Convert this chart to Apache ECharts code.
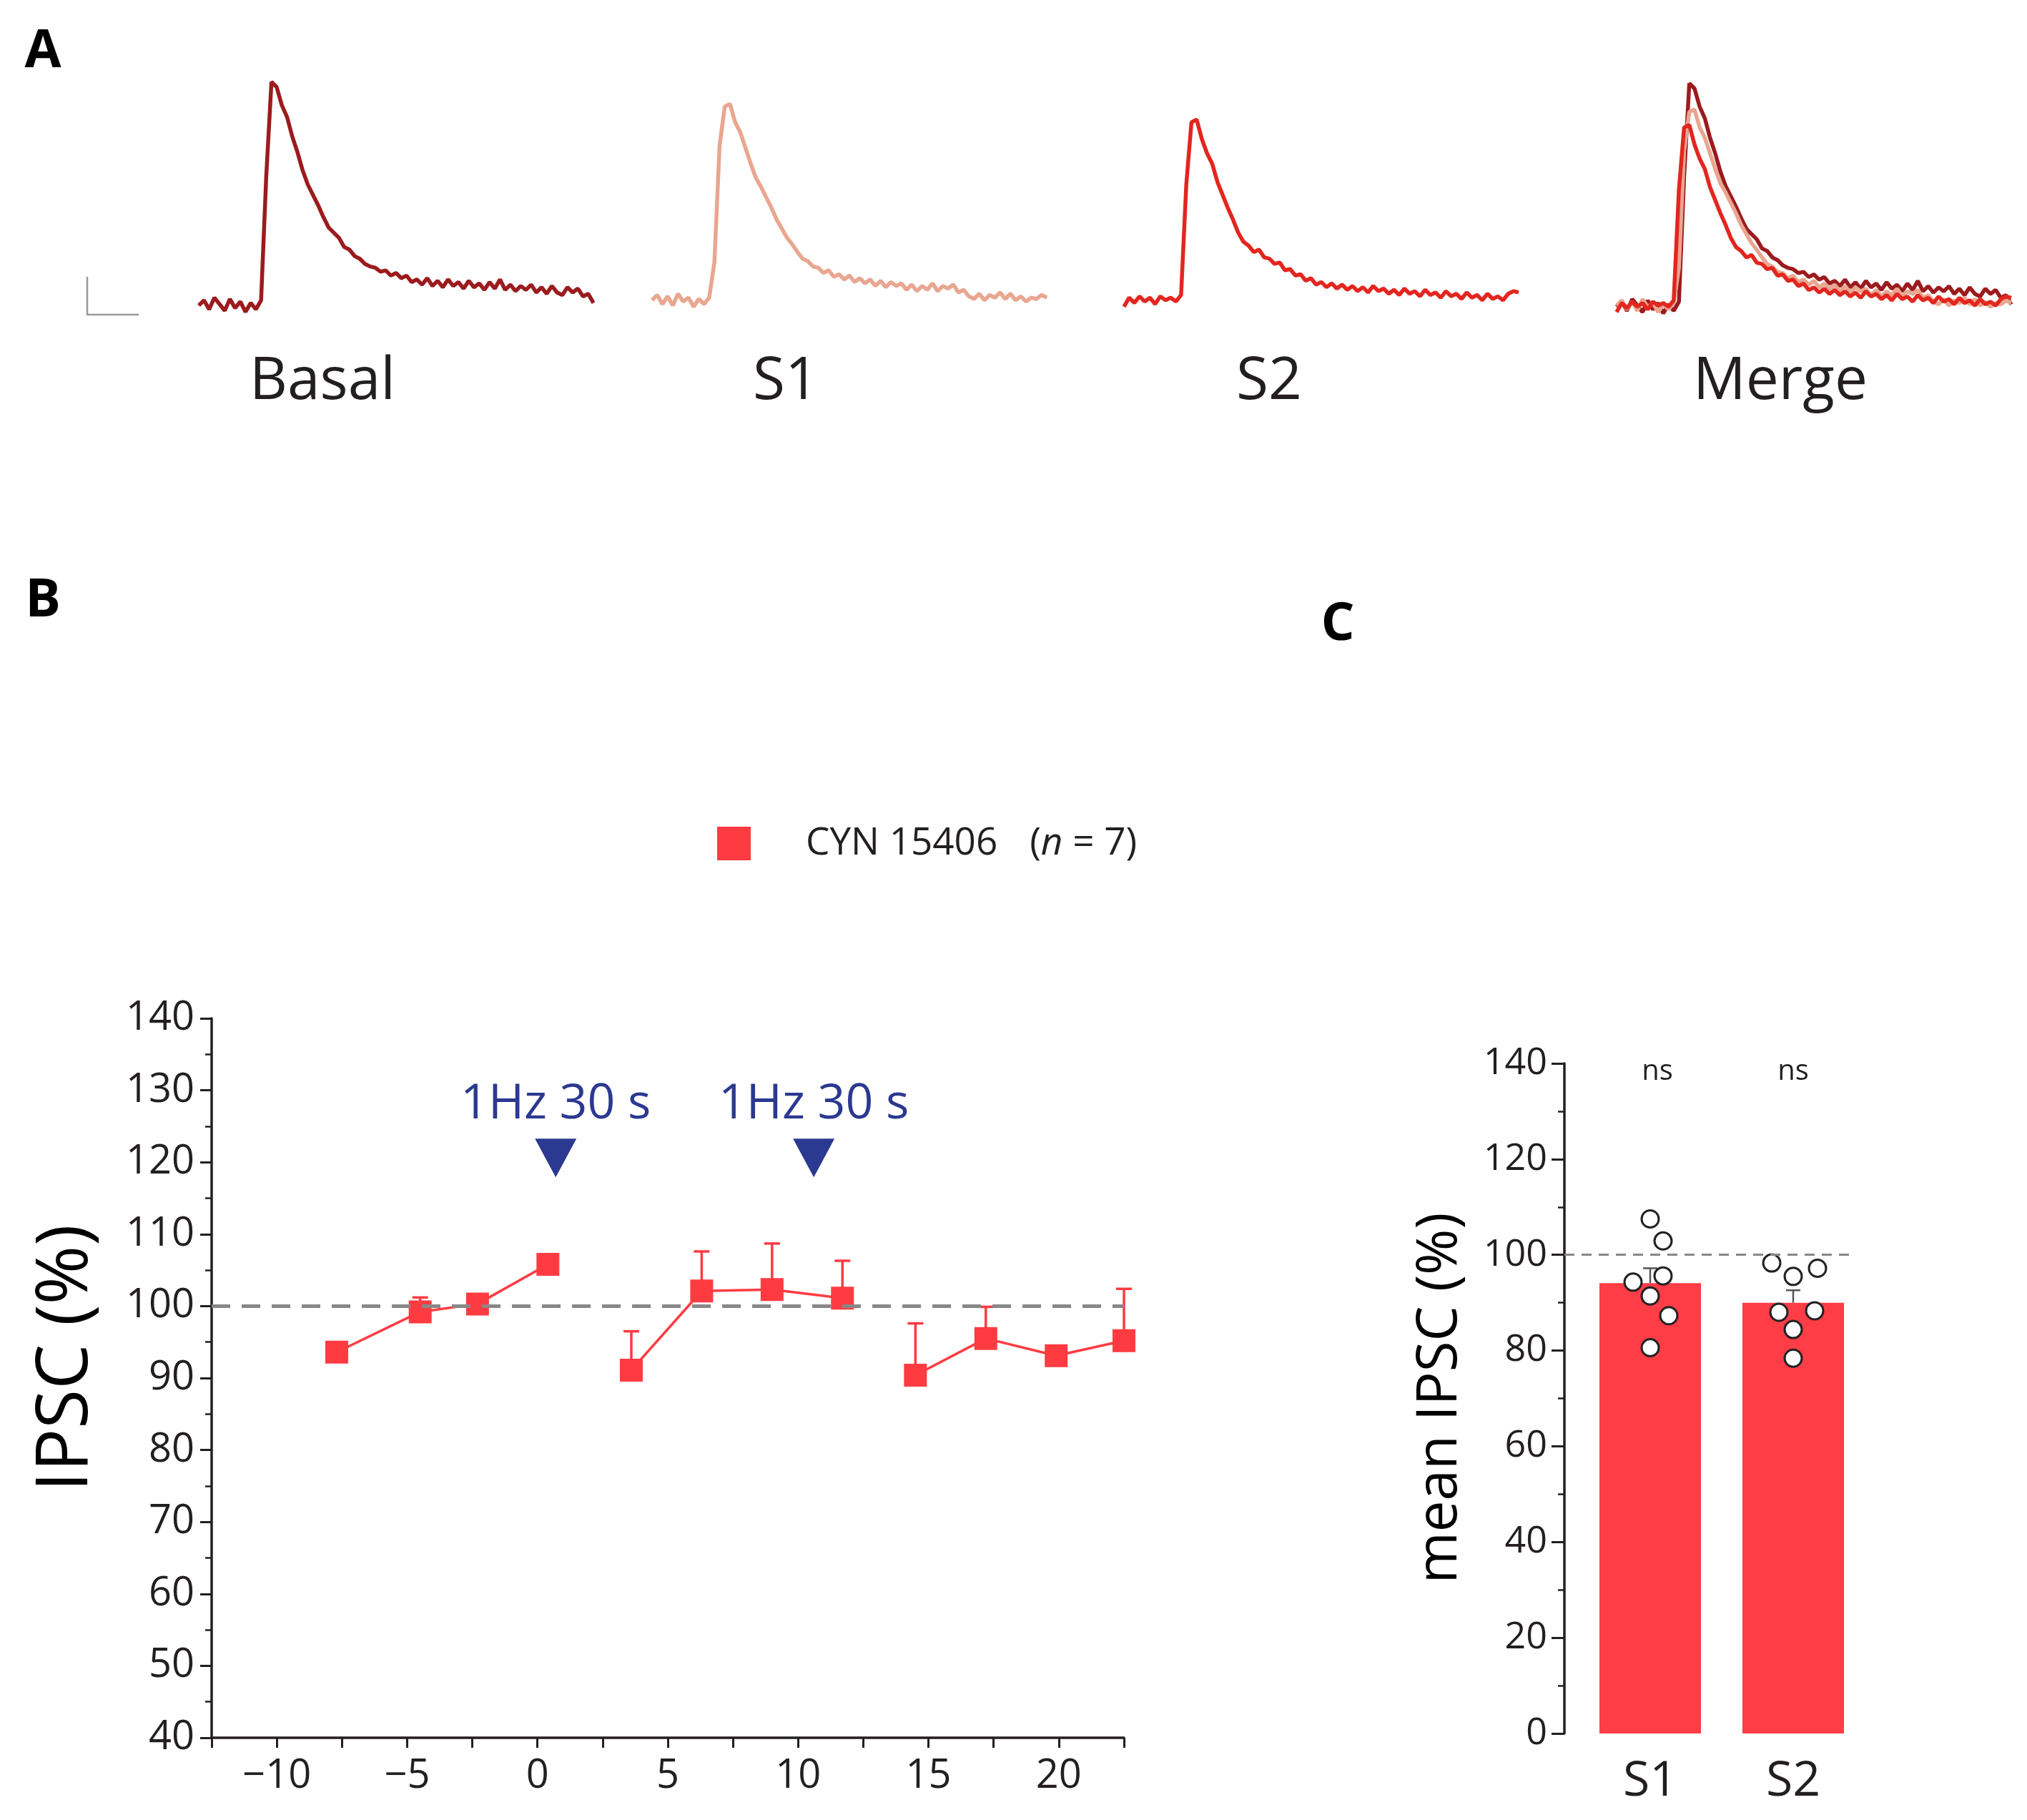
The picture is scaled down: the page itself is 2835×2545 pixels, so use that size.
<!DOCTYPE html>
<html>
<head>
<meta charset="utf-8">
<script src="https://cdn.jsdelivr.net/npm/echarts@6/dist/echarts.min.js"></script>
<style>
html, body { margin: 0; padding: 0; background: #fff; }
#main { width: 2835px; height: 2545px; }
</style>
</head>
<body>
<div id="main"></div>
<script>
// panel A: IPSC traces, amplitude above baseline, one sample per time step
var basalTrace = [0,4,-3,6,1,-4,5,-2,3,-5,2,-3,4,100,172,168,154,145,130,118,104,93,85,77,68,60,56,52,45,43,38,36,32,30,29,26,27,23,25,21,23,18,20,16,21,15,19,14,20,15,18,13,19,14,17,12,18,13,20,12,16,11,15,12,16,10,14,9,15,10,8,14,10,13,7,9,2];
var s1Trace = [1,5,-2,4,-3,6,0,3,-4,2,-2,3,30,120,150,152,138,130,118,106,95,88,80,72,63,56,49,44,38,33,31,27,26,22,24,19,21,17,20,15,18,14,17,12,16,11,15,12,14,9,13,8,12,9,14,8,12,10,13,7,9,4,2,6,1,5,3,7,2,6,1,4,0,3,2,5,3];
var s2Trace = [-4,3,-1,4,0,3,-2,4,1,3,0,5,90,138,140,125,114,106,92,82,72,63,53,46,43,38,40,34,33,29,30,24,25,20,21,16,18,13,15,11,14,10,13,9,12,8,11,7,12,8,10,6,9,5,10,6,8,4,9,5,7,3,8,4,6,2,7,3,5,1,6,2,4,1,6,8,7];
var traceNames = ['Basal', 'S1', 'S2', 'Merge'];

// panel B: time course
var timeMin = [-7.7, -4.5, -2.3, 0.4, 3.6, 6.3, 9.0, 11.7, 14.5, 17.2, 19.9, 22.5];
var ipsc = [93.6, 99.2, 100.3, 105.8, 91.1, 102.1, 102.3, 101.1, 90.4, 95.5, 93.1, 95.2];
var ipscErrTop = [94.2, 101.2, 101.0, 106.4, 96.5, 107.6, 108.7, 106.3, 97.6, 99.9, 93.8, 102.4];
var block = [0, 0, 0, 0, 1, 1, 1, 1, 2, 2, 2, 2];
var stimTimes = [0.7, 10.6];
var stimLabel = '1Hz 30 s';

// panel C: mean IPSC per stimulation
var cats = ['S1', 'S2'];
var meanIpsc = [94.1, 90.0];
var meanErrTop = [97.2, 92.6];
var cellsS1 = [107.5, 102.9, 94.3, 95.6, 91.4, 87.3, 80.6];
var cellsS2 = [98.3, 95.5, 97.2, 88.0, 88.3, 84.4, 78.4];
var jitterS1 = [0, 0.09, -0.12, 0.09, 0, 0.13, 0];
var jitterS2 = [-0.15, 0, 0.17, -0.1, 0.15, 0, 0];
var sigLabels = ['ns', 'ns'];

var FONT = "'Open Sans', 'Noto Sans', sans-serif";
var INK = '#231F20';
var RED = '#FF3B42';
var NAVY = '#2B3990';
var traceColors = ['#9B1B1E', '#E9A690', '#E3261F'];

var chart = echarts.init(document.getElementById('main'));

function pairs(arr) {
  return arr.map(function (v, i) { return [i, v]; });
}

// trace grids (A)
var traceGrids = [
  { left: 278, top: 100, width: 552, height: 363.5 },
  { left: 912, top: 94.5, width: 552, height: 363.5 },
  { left: 1572, top: 94.5, width: 552, height: 363.5 },
  { left: 2261, top: 102, width: 552, height: 363.5 }
];
var grids = traceGrids.concat([
  { left: 296, top: 1424, width: 1276, height: 1006 },
  { left: 2188, top: 1487, width: 400, height: 937 }
]);

var xAxes = [], yAxes = [];
for (var g = 0; g < 4; g++) {
  xAxes.push({ gridIndex: g, type: 'value', min: 0, max: 76, show: false });
  yAxes.push({ gridIndex: g, type: 'value', min: -20, max: 180, show: false });
}

xAxes.push({
  gridIndex: 4, type: 'value', min: -12.5, max: 22.5, interval: 2.5,
  axisLine: { onZero: false, lineStyle: { color: INK, width: 3.5 } },
  axisTick: { length: 14, lineStyle: { color: INK, width: 3 } },
  splitLine: { show: false },
  axisLabel: {
    fontFamily: FONT, fontSize: 56, color: INK, margin: 26,
    formatter: function (v) {
      if (Math.abs(v % 5) > 1e-6) return '';
      return v < 0 ? '\u2212' + Math.abs(v) : String(v);
    }
  }
});
yAxes.push({
  gridIndex: 4, type: 'value', min: 40, max: 140, interval: 10,
  axisLine: { show: true, onZero: false, lineStyle: { color: INK, width: 3.5 } },
  axisTick: { show: true, length: 16, lineStyle: { color: INK, width: 3 } },
  minorTick: { show: true, splitNumber: 2, length: 9, lineStyle: { color: INK, width: 2.5 } },
  splitLine: { show: false },
  axisLabel: { fontFamily: FONT, fontSize: 56, color: INK, margin: 24 }
});

xAxes.push({
  gridIndex: 5, type: 'value', min: 0.4, max: 2.4,
  axisLine: { show: false, onZero: false }, axisTick: { show: false }, splitLine: { show: false },
  axisLabel: {
    customValues: [1, 2], fontFamily: FONT, fontSize: 68, color: INK, margin: 34,
    formatter: function (v) { return cats[Math.round(v) - 1] || ''; }
  }
});
yAxes.push({
  gridIndex: 5, type: 'value', min: 0, max: 140, interval: 20,
  axisLine: { show: true, onZero: false, lineStyle: { color: INK, width: 3.5 } },
  axisTick: { show: true, length: 18, lineStyle: { color: INK, width: 3 } },
  minorTick: { show: true, splitNumber: 2, length: 9, lineStyle: { color: INK, width: 2.5 } },
  splitLine: { show: false },
  axisLabel: { fontFamily: FONT, fontSize: 52, color: INK, margin: 24 }
});

var series = [];

// A: single traces
[basalTrace, s1Trace, s2Trace].forEach(function (tr, k) {
  series.push({
    type: 'line', xAxisIndex: k, yAxisIndex: k, data: pairs(tr),
    showSymbol: false, silent: true,
    lineStyle: { color: traceColors[k], width: 5.5 }
  });
});
// A: merge
[basalTrace, s1Trace, s2Trace].forEach(function (tr, k) {
  series.push({
    type: 'line', xAxisIndex: 3, yAxisIndex: 3, data: pairs(tr),
    showSymbol: false, silent: true,
    lineStyle: { color: traceColors[k], width: 5.5 }
  });
});

function errRender(color, lw, hw) {
  return function (params, api) {
    var p = api.coord([api.value(0), api.value(1)]);
    var q = api.coord([api.value(0), api.value(2)]);
    return {
      type: 'group',
      children: [
        { type: 'line', shape: { x1: p[0], y1: p[1], x2: q[0], y2: q[1] }, style: { stroke: color, lineWidth: lw } },
        { type: 'line', shape: { x1: q[0] - hw, y1: q[1], x2: q[0] + hw, y2: q[1] }, style: { stroke: color, lineWidth: lw } }
      ]
    };
  };
}

// B: error bars
series.push({
  type: 'custom', xAxisIndex: 4, yAxisIndex: 4,
  data: timeMin.map(function (t, i) { return [t, ipsc[i], ipscErrTop[i]]; }),
  encode: { x: 0, y: [1, 2] },
  renderItem: errRender(RED, 3.5, 11)
});

// B: lines in three blocks
[0, 1, 2].forEach(function (b) {
  var d = [];
  timeMin.forEach(function (t, i) { if (block[i] === b) d.push([t, ipsc[i]]); });
  var s = {
    name: 'CYN 15406', type: 'line', xAxisIndex: 4, yAxisIndex: 4, data: d,
    symbol: 'rect', symbolSize: 32,
    itemStyle: { color: RED, opacity: 1 }, lineStyle: { color: RED, width: 3.5 }
  };
  if (b === 0) {
    s.markLine = {
      silent: true, symbol: 'none', label: { show: false },
      lineStyle: { color: '#888', width: 5, type: [26, 16] },
      data: [{ yAxis: 100 }]
    };
  }
  series.push(s);
});

// B: stimulation markers
series.push({
  type: 'scatter', xAxisIndex: 4, yAxisIndex: 4,
  data: stimTimes.map(function (t) { return [t, 120.6]; }),
  symbol: 'triangle', symbolRotate: 180, symbolSize: [58, 54],
  itemStyle: { color: NAVY, opacity: 1 },
  label: {
    show: true, position: 'top', distance: 14, formatter: stimLabel,
    fontFamily: FONT, fontSize: 68, color: NAVY
  }
});

// C: bars
series.push({
  type: 'bar', xAxisIndex: 5, yAxisIndex: 5, barWidth: 142,
  data: meanIpsc.map(function (v, i) { return [i + 1, v]; }),
  itemStyle: { color: '#FF3D46' },
  markLine: {
    silent: true, symbol: 'none', label: { show: false },
    lineStyle: { color: '#888', width: 3, type: [14, 10] },
    data: [{ yAxis: 100 }]
  }
});
series.push({
  type: 'custom', xAxisIndex: 5, yAxisIndex: 5,
  data: meanIpsc.map(function (v, i) { return [i + 1, v, meanErrTop[i]]; }),
  encode: { x: 0, y: [1, 2] },
  renderItem: errRender('#555', 2.5, 10)
});
var dots = [];
cellsS1.forEach(function (v, i) { dots.push([1 + jitterS1[i], v]); });
cellsS2.forEach(function (v, i) { dots.push([2 + jitterS2[i], v]); });
series.push({
  type: 'scatter', xAxisIndex: 5, yAxisIndex: 5, data: dots,
  symbol: 'circle', symbolSize: 24,
  itemStyle: { color: '#fff', borderColor: '#222', borderWidth: 3, opacity: 1 }
});
series.push({
  type: 'scatter', xAxisIndex: 5, yAxisIndex: 5,
  data: sigLabels.map(function (s, i) { return [i + 1 + (i === 0 ? 0.05 : 0), 138.3]; }),
  symbolSize: 0, itemStyle: { opacity: 1 },
  label: {
    show: true, position: 'inside',
    formatter: function (p) { return sigLabels[p.dataIndex]; },
    fontFamily: FONT, fontSize: 40, color: INK
  }
});

// texts
var graphics = [
  { type: 'text', x: 60, y: 73, style: { text: 'A', fontFamily: FONT, fontWeight: 'bold', fontSize: 74, fill: '#000', align: 'center', verticalAlign: 'middle' } },
  { type: 'text', x: 60, y: 841, style: { text: 'B', fontFamily: FONT, fontWeight: 'bold', fontSize: 74, fill: '#000', align: 'center', verticalAlign: 'middle' } },
  { type: 'text', x: 1871, y: 874, style: { text: 'C', fontFamily: FONT, fontWeight: 'bold', fontSize: 74, fill: '#000', align: 'center', verticalAlign: 'middle' } },
  { type: 'polyline', shape: { points: [[122, 387], [122, 440], [194, 440]] }, style: { stroke: '#999', lineWidth: 2.5, fill: null } },
  { type: 'text', x: 94, y: 1899, rotation: Math.PI / 2, style: { text: 'IPSC (%)', fontFamily: FONT, fontSize: 100, fill: '#000', align: 'center', verticalAlign: 'middle' } },
  { type: 'text', x: 2015, y: 1955, rotation: Math.PI / 2, style: { text: 'mean IPSC (%)', fontFamily: FONT, fontSize: 78, fill: '#000', align: 'center', verticalAlign: 'middle' } }
];
var labelX = [451, 1099, 1775, 2490];
traceNames.forEach(function (n, i) {
  graphics.push({ type: 'text', x: labelX[i], y: 535, style: { text: n, fontFamily: FONT, fontSize: 82, fill: INK, align: 'center', verticalAlign: 'middle' } });
});

chart.setOption({
  animation: false,
  backgroundColor: '#fff',
  grid: grids,
  xAxis: xAxes,
  yAxis: yAxes,
  legend: {
    left: 1003, top: 1153, padding: 0,
    itemWidth: 47, itemHeight: 47,
    data: [{ name: 'CYN 15406', icon: 'rect', itemStyle: { color: RED } }],
    formatter: function () { return '{a|CYN 15406}{p|(}{i|n}{b| = 7)}'; },
    textStyle: {
      fontFamily: FONT, fontSize: 53, color: INK,
      rich: {
        a: { fontFamily: FONT, fontSize: 53, color: INK, padding: [0, 0, 0, 72] },
        p: { fontFamily: FONT, fontSize: 53, color: INK, padding: [0, 0, 0, 45] },
        i: { fontFamily: FONT, fontSize: 53, color: INK, fontStyle: 'italic' },
        b: { fontFamily: FONT, fontSize: 53, color: INK }
      }
    }
  },
  graphic: graphics,
  series: series
});
</script>
</body>
</html>
